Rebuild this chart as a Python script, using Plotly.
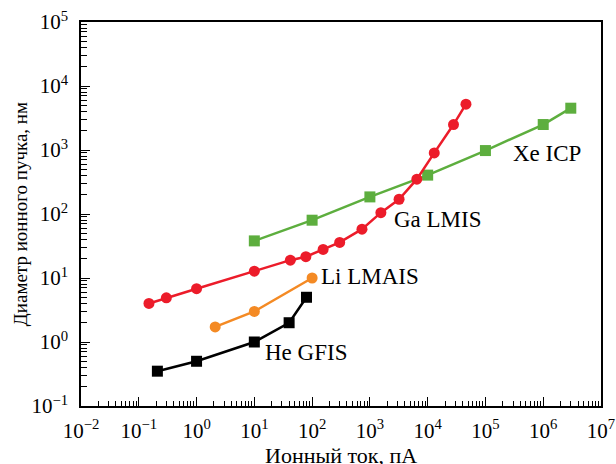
import plotly.graph_objects as go

# Data
ga_x = [0.15, 0.3, 1, 10, 42, 78, 155, 300, 730, 1550, 3200, 6500, 13000, 28000, 46000]
ga_y = [4.0, 4.9, 6.8, 12.8, 19, 21.5, 28, 36, 58, 105, 170, 350, 900, 2500, 5200]
xe_x = [10, 100, 1000, 10000, 100000, 1000000, 3000000]
xe_y = [38, 80, 185, 405, 980, 2500, 4500]
li_x = [2.1, 10, 100]
li_y = [1.72, 3.0, 10]
he_x = [0.21, 1, 10, 40, 80]
he_y = [0.35, 0.5, 1.0, 2.0, 5.0]

x_decades = list(range(-2, 8))
y_decades = list(range(-1, 6))

x_title = "Ионный ток, пА"
y_title = "Диаметр ионного пучка, нм"

SERIF = "Liberation Serif, Times New Roman, Times, serif"

def sup(e):
    return "10<sup>%s</sup>" % (str(e).replace("-", "\u2212"))

fig = go.Figure()
fig.add_trace(go.Scatter(x=xe_x, y=xe_y, mode="lines+markers",
                         line=dict(color="#5dae3e", width=2.5),
                         marker=dict(symbol="square", size=11, color="#5dae3e")))
fig.add_trace(go.Scatter(x=ga_x, y=ga_y, mode="lines+markers",
                         line=dict(color="#ec1c2a", width=2.5),
                         marker=dict(symbol="circle", size=11, color="#ec1c2a")))
fig.add_trace(go.Scatter(x=li_x, y=li_y, mode="lines+markers",
                         line=dict(color="#f48a24", width=2.5),
                         marker=dict(symbol="circle", size=11, color="#f48a24")))
fig.add_trace(go.Scatter(x=he_x, y=he_y, mode="lines+markers",
                         line=dict(color="#000000", width=2.5),
                         marker=dict(symbol="square", size=11, color="#000000")))

labels = [("Xe ICP", 5.47, 2.94), ("Ga LMIS", 3.415, 1.92),
          ("Li LMAIS", 2.15, 1.02), ("He GFIS", 1.18, -0.17)]
for t, lx, ly in labels:
    fig.add_annotation(x=lx, y=ly, text=t, showarrow=False, xanchor="left",
                       yanchor="middle", xshift=-2,
                       font=dict(family=SERIF, size=23, color="black"))

# axis titles
fig.add_annotation(xref="paper", yref="paper", x=0.5, y=-0.128, text=x_title,
                   showarrow=False, xanchor="center", yanchor="middle",
                   font=dict(family=SERIF, size=22, color="black"))
fig.add_annotation(xref="paper", yref="paper", x=-0.117, y=0.5, text=y_title,
                   showarrow=False, xanchor="center", yanchor="middle", textangle=-90,
                   font=dict(family=SERIF, size=19, color="black"))

x_minor = [m * 10.0 ** d for d in x_decades[:-1] for m in range(2, 10)]
y_minor = [m * 10.0 ** d for d in y_decades[:-1] for m in range(2, 10)]

axis_common = dict(showline=True, linecolor="black", linewidth=1.5, mirror=True,
                   ticks="inside", ticklen=9, tickwidth=1.3, tickcolor="black",
                   showgrid=False, zeroline=False, automargin=False,
                   tickfont=dict(family=SERIF, size=21, color="black"))

fig.update_xaxes(type="log", range=[-2, 7], tickmode="array",
                 tickvals=[10.0 ** d for d in x_decades],
                 ticktext=[sup(d) for d in x_decades],
                 ticklabelstandoff=5,
                 minor=dict(tickmode="array", tickvals=x_minor, ticks="inside",
                            ticklen=5, tickwidth=1.1, tickcolor="black", showgrid=False),
                 **axis_common)
fig.update_yaxes(type="log", range=[-1, 5], tickmode="array",
                 tickvals=[10.0 ** d for d in y_decades],
                 ticktext=[sup(d) for d in y_decades],
                 ticklabelstandoff=7,
                 minor=dict(tickmode="array", tickvals=y_minor, ticks="inside",
                            ticklen=6, tickwidth=1.1, tickcolor="black", showgrid=False),
                 **axis_common)

fig.update_layout(width=616, height=464, showlegend=False,
                  margin=dict(l=81, r=15, t=22, b=58),
                  paper_bgcolor="white", plot_bgcolor="white")

fig.write_html("out.html")
